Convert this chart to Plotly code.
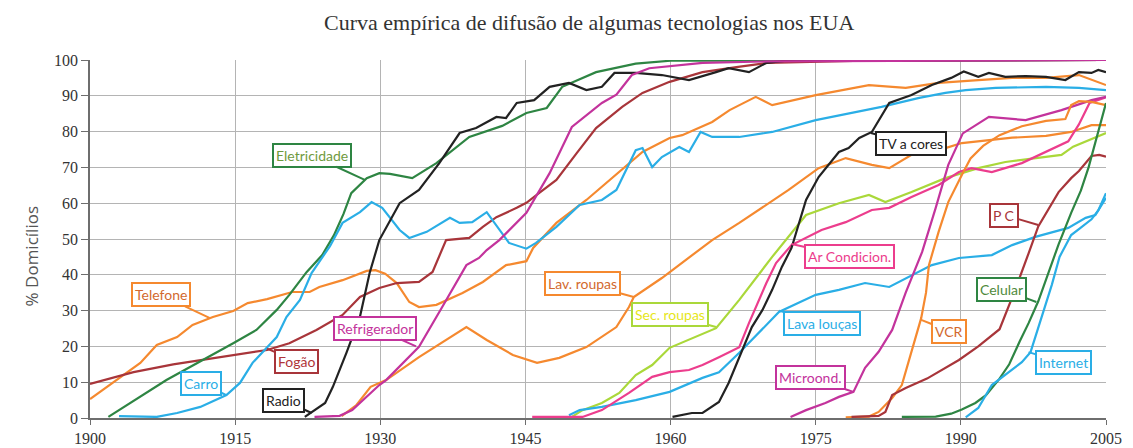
import plotly.graph_objects as go

# ---- data ----
tel_x = [1900, 1902.8, 1905.2, 1906.9, 1909, 1910.6, 1912.7, 1914.8, 1916.3, 1918.3, 1920.9, 1922.7, 1923.7,
         1926.1, 1928.6, 1929.5, 1930.5, 1931.7, 1933, 1934, 1935.8, 1938.5, 1940.6, 1943, 1945.1, 1945.8,
         1948.2, 1951.3, 1954.7, 1957.1, 1959.9, 1961.2, 1964.3, 1966.1, 1968.8, 1970.5, 1975, 1980.5,
         1984.3, 1987.7, 1991.8, 1995.3, 1998.8, 2002.2, 2005]
tel_y = [5.3, 10.6, 15.4, 20.4, 22.6, 26, 28.2, 29.9, 32.1, 33.2, 35.2, 35.2, 36.6,
         38.5, 41.1, 41.3, 40.3, 37.7, 32.4, 31, 31.6, 34.9, 38, 42.7, 43.8, 47.5,
         54.5, 60.9, 68.7, 74.3, 78.2, 79, 82.7, 86, 89.7, 87.4, 90.2, 93,
         92.2, 93.6, 94.4, 95, 95, 95.8, 93]

fog_x = [1900, 1904.5, 1908.6, 1913.4, 1918.3, 1920.6, 1923.4, 1926.1, 1927.9, 1929.9, 1931.7, 1934,
         1935.4, 1936.8, 1939.2, 1940.6, 1942, 1944.1, 1945.1, 1946.4, 1948.2, 1950.3, 1952.3, 1955,
         1957.1, 1959.9, 1963.3, 1966.8, 1970, 1980, 2005]
fog_y = [9.5, 12.8, 15, 17, 19, 20.9, 24.6, 28.8, 33.8, 36.3, 37.7, 38,
         40.8, 49.7, 50.3, 53.4, 56.1, 58.7, 60.1, 62.8, 66.5, 74, 81, 86.9,
         90.8, 93.9, 96.6, 98, 99.2, 99.8, 100]

ele_x = [1901.9, 1907.9, 1914.8, 1917.2, 1919.3, 1920.6, 1922.4, 1924, 1925.2, 1926.2, 1927, 1928.6,
         1929.9, 1931, 1933.3, 1935.8, 1939.2, 1942.6, 1945.1, 1947.2, 1948.8, 1952.3, 1956.4, 1960, 2005]
ele_y = [0.3, 10.6, 20.9, 24.6, 30.2, 34.4, 40.8, 45.5, 51, 57, 62.8, 67,
         68.4, 68.2, 67, 71.2, 78.5, 81.6, 85.2, 86.6, 92.5, 96.6, 99, 99.8, 100]

car_x = [1903, 1906.9, 1909, 1911.4, 1914.1, 1915.5, 1916.8, 1918.3, 1919.3, 1920.3, 1921.7, 1922.9,
         1924.8, 1926.1, 1927.9, 1929.1, 1930.2, 1932, 1933, 1934.8, 1937.2, 1938.2, 1939.5, 1941,
         1942.3, 1943.3, 1945.1, 1946.1, 1948.2, 1950.6, 1952.9, 1954.4, 1956.4, 1957.1, 1958.1, 1959.1,
         1960.9, 1961.9, 1963.1, 1964.3, 1967.1, 1970.5, 1975, 1981.8, 1985.7, 1988.4, 1990.5, 1993.6,
         1998.8, 2002.2, 2005]
car_y = [0.5, 0.3, 1.4, 3.1, 6.4, 9.8, 15.4, 19.8, 22.6, 28.2, 33, 40.5,
         48, 54.5, 57.5, 60.3, 58.7, 52.5, 50.3, 52, 55.9, 54.5, 54.7, 57.5,
         52.5, 48.9, 47.3, 48.9, 53.4, 59.5, 60.9, 63.7, 74.8, 75.4, 70.1, 72.9,
         75.7, 74.3, 79.9, 78.5, 78.5, 79.9, 83.2, 86.9, 89.4, 90.8, 91.6, 92.2,
         92.5, 92.2, 91.6]

rad_x = [1922.2, 1924.3, 1925.1, 1926.5, 1927.9, 1928.9, 1929.9, 1932, 1934, 1936.1, 1938.2, 1939.9,
         1942, 1943, 1944.1, 1945.9, 1947.5, 1949.5, 1951.3, 1952.9, 1954.2, 1956.4, 1959.1, 1961.9,
         1964.7, 1966, 1968.1, 1969.9, 1972, 2005]
rad_y = [0.3, 4.2, 8.7, 18.2, 28.3, 40.5, 49.7, 60, 63.7, 71.2, 79.6, 81,
         84.1, 83.8, 88, 88.8, 92.5, 93.6, 91.6, 92.5, 96.4, 96.4, 95.8, 94.4,
         96.6, 97.7, 96.6, 99.2, 99.8, 100]

ref_x = [1923.2, 1925.8, 1927.1, 1928.6, 1929.9, 1930.6, 1934, 1936.4, 1938.9, 1940.2, 1941, 1942.3,
         1945.1, 1947.5, 1949.8, 1952.9, 1954.4, 1956, 1957.8, 1963.3, 1970, 2005]
ref_y = [0.3, 0.6, 2.2, 5.9, 9.2, 10.6, 19.9, 31, 42.7, 44.7, 46.9, 49.7,
         57.3, 68.4, 81.3, 88, 90.3, 95.8, 97.7, 99.2, 99.6, 100]

lav_x = [1926, 1927.5, 1929, 1930.6, 1934, 1938.9, 1941, 1943.7, 1946.2, 1948.5, 1951.3, 1954.4,
         1955.7, 1956.2, 1959.1, 1960.9, 1964.3, 1967.1, 1972.2, 1975.3, 1978.1, 1980.8, 1982.6,
         1984.9, 1988.4, 1990.1, 1995.3, 1998.8, 2001.4, 2003.5, 2005]
lav_y = [0.5, 3.5, 8.7, 10.6, 17, 25.4, 21.8, 17.6, 15.4, 16.8, 19.8, 25.4,
         31, 33.8, 39.1, 42.7, 49.7, 54.5, 63.7, 69.8, 72.6, 70.7, 69.8,
         73.5, 75.4, 76.8, 78.3, 78.8, 79.9, 81.8, 81.8]

sec_x = [1949.8, 1950.9, 1952.9, 1954.7, 1956.4, 1958.1, 1959.9, 1962.5, 1964.7, 1967.1, 1970.5,
         1974, 1977.4, 1980.5, 1982.2, 1984.9, 1988.4, 1991.8, 1994.6, 2000.4, 2001.6, 2005]
sec_y = [0.3, 2.2, 4.2, 7, 12, 14.8, 19.6, 22.5, 25.1, 33, 45,
         56.7, 60, 62.3, 60.3, 63.1, 67, 69.8, 71.5, 73.5, 75.8, 79.6]

llo_x = [1949.5, 1950.6, 1952.9, 1956.4, 1959.9, 1963.3, 1965, 1967.1, 1971.2, 1975, 1977.4, 1980.1,
         1982.6, 1983.6, 1987, 1989.8, 1993.2, 1995.3, 1997.7, 2001.1, 2002.9, 2003.9, 2005]
llo_y = [0.8, 2.2, 3.1, 5, 7.3, 11.2, 12.8, 18.2, 29.6, 34.4, 35.8, 37.7,
         36.6, 38, 42.7, 44.7, 45.5, 48.3, 50.6, 53.1, 55.9, 56.7, 61.5]

arc_x = [1945.7, 1950.9, 1952.9, 1955.7, 1958.1, 1959.9, 1961.9, 1963.3, 1965, 1967.1, 1968.1, 1969.9,
         1970.9, 1972.5, 1975.6, 1978.1, 1980.8, 1982.6, 1984.9, 1987.7, 1989.8, 1991.1, 1993.2,
         1996.3, 2001.1, 2002.2, 2003.3, 2005]
arc_y = [0.3, 0.3, 2.2, 7, 11.5, 12.8, 13.4, 14.8, 17, 19.8, 26.5, 37.7,
         43.3, 48.3, 52.5, 54.7, 58.1, 58.7, 61.7, 65.1, 68.7, 69.8, 68.7,
         71.2, 77.3, 82, 88, 89.6]

tvc_x = [1960.2, 1962.2, 1963.3, 1965, 1966, 1967.1, 1968.4, 1969.5, 1970.5, 1971.5, 1972.5, 1974,
         1975.3, 1977.4, 1978.4, 1979.5, 1980.8, 1982.6, 1984.9, 1987, 1989, 1990.3, 1991.8, 1992.9,
         1994.6, 1996.7, 1998.8, 2000.8, 2002.2, 2003.5, 2004.2, 2005]
tvc_y = [0.3, 1.4, 1.4, 4.5, 9.8, 17, 25.4, 30.2, 35.8, 42.2, 47.5, 60.9,
         67.3, 74.3, 75.4, 78.2, 79.9, 88, 90.2, 93, 95, 96.8, 95.3, 96.4,
         95.3, 95.5, 95.3, 94.4, 96.6, 96.4, 97.2, 96.6]

mic_x = [1972.4, 1974, 1976, 1977.4, 1978.9, 1980.1, 1981.5, 1982.9, 1984.3, 1986, 1987.4, 1988.7,
         1990.2, 1992.9, 1996.7, 2000.4, 2003.5, 2005]
mic_y = [0.3, 2.2, 4.2, 5.9, 7.3, 14, 18.5, 24.6, 35, 46.4, 58.7, 70.7,
         79.5, 84.1, 83.2, 86, 88.8, 89.7]

vcr_x = [1978.1, 1980.5, 1981.5, 1982.9, 1983.9, 1984.9, 1985.9, 1986.4, 1986.7, 1987.7, 1988.7,
         1990.1, 1991, 1992.3, 1994, 1996.3, 1998.8, 2000.8, 2001.4, 2002.2, 2003.5, 2005]
vcr_y = [0.2, 0.4, 1.7, 5.6, 9.2, 18.4, 27.9, 35, 42.7, 52, 60.3,
         67.9, 72.5, 76, 79, 81.5, 83, 83.5, 87.4, 88.5, 88.3, 87.4]

pc_x = [1978.7, 1981.5, 1982.2, 1982.9, 1984.3, 1986.5, 1989.8, 1991.8, 1994, 1995.5, 1997, 1998,
        2000.1, 2001.4, 2002.2, 2003.5, 2004.3, 2005]
pc_y = [0.3, 0.6, 1.7, 6.4, 8.4, 11, 16.2, 20, 24.8, 35, 46, 53.5,
        63.1, 67, 69, 73.2, 73.5, 73]

cel_x = [1983.9, 1987.4, 1989, 1990.1, 1991.5, 1992.6, 1994, 1995, 1996.1, 1997, 1998, 1999, 2000.1,
         2001.4, 2002.4, 2003.2, 2004, 2005]
cel_y = [0.3, 0.4, 1.2, 2.4, 4.2, 6.4, 11, 15, 21.5, 26.5, 32.6, 40, 48.5,
         57.3, 63.5, 70, 78, 88]

int_x = [1990.5, 1991.8, 1993.2, 1994.6, 1996.3, 1997.2, 1998.3, 1999.4, 2000.2, 2001.4, 2002.3,
         2003.5, 2004.2, 2005]
int_y = [0.2, 2.8, 9.2, 12, 15.6, 18.4, 27.9, 37.2, 45, 51.1, 53, 55.5, 58, 62.8]

x_ticks = [1900, 1915, 1930, 1945, 1960, 1975, 1990, 2005]
y_ticks = [0, 10, 20, 30, 40, 50, 60, 70, 80, 90, 100]

ORANGE = "#F5892F"
DRED = "#A8353A"
GREEN = "#2E8543"
LBLUE = "#2AAEE6"
BLACK = "#222222"
MAGENTA = "#C3339C"
PINK = "#EC3D8D"
LIME = "#AAD83A"

series = [
    ("Telefone", tel_x, tel_y, ORANGE),
    ("Fogão", fog_x, fog_y, DRED),
    ("Eletricidade", ele_x, ele_y, GREEN),
    ("Carro", car_x, car_y, LBLUE),
    ("Radio", rad_x, rad_y, BLACK),
    ("Lav. roupas", lav_x, lav_y, ORANGE),
    ("Sec. roupas", sec_x, sec_y, LIME),
    ("Lava louças", llo_x, llo_y, LBLUE),
    ("Ar Condicion.", arc_x, arc_y, PINK),
    ("TV a cores", tvc_x, tvc_y, BLACK),
    ("Microond.", mic_x, mic_y, MAGENTA),
    ("VCR", vcr_x, vcr_y, ORANGE),
    ("P C", pc_x, pc_y, DRED),
    ("Celular", cel_x, cel_y, GREEN),
    ("Internet", int_x, int_y, LBLUE),
    ("Refrigerador", ref_x, ref_y, MAGENTA),
]

# label: text, tip (x, y), box centre (x, y), text colour, border colour
labels = [
    ("Eletricidade", 1928.4, 66.5, 1922.9, 73.4, "#6F9A3E", GREEN),
    ("Telefone", 1912.4, 27.9, 1907.3, 34.4, "#D2692E", ORANGE),
    ("Fogão", 1918.3, 19.4, 1921.3, 15.9, "#B03539", DRED),
    ("Carro", 1914.1, 6.4, 1911.5, 9.6, LBLUE, LBLUE),
    ("Radio", 1922.9, 1.4, 1920.0, 5.0, BLACK, BLACK),
    ("Refrigerador", 1933.7, 20.0, 1929.5, 25.1, MAGENTA, MAGENTA),
    ("Lav. roupas", 1956.2, 33.8, 1950.9, 37.7, "#D2692E", ORANGE),
    ("Sec. roupas", 1964.7, 25.4, 1959.9, 29.0, "#E6E61A", LIME),
    ("Ar Condicion.", 1972.5, 48.6, 1978.5, 45.0, PINK, PINK),
    ("Lava louças", 1971.2, 30.0, 1975.6, 26.3, LBLUE, LBLUE),
    ("Microond.", 1978.9, 7.3, 1974.5, 11.2, MAGENTA, MAGENTA),
    ("VCR", 1985.9, 27.4, 1988.8, 24.3, "#D2692E", ORANGE),
    ("Celular", 1997.8, 32.4, 1994.2, 36.0, "#4F8A3C", GREEN),
    ("Internet", 1997.0, 18.4, 2000.6, 15.4, LBLUE, LBLUE),
    ("P C", 1998.0, 53.9, 1994.5, 56.7, DRED, DRED),
    ("TV a cores", 1980.7, 79.6, 1984.8, 76.8, BLACK, BLACK),
]

fig = go.Figure()
for name, xs, ys, col in series:
    fig.add_trace(go.Scatter(x=xs, y=ys, mode="lines", name=name,
                             line=dict(color=col, width=2.2), hoverinfo="x+y+name"))

for txt, tx, ty, bx, by, tcol, bcol in labels:
    fig.add_annotation(x=tx, y=ty, ax=bx, ay=by, axref="x", ayref="y", xref="x", yref="y",
                       text=txt, showarrow=True, arrowhead=0, arrowwidth=2, arrowcolor=bcol,
                       font=dict(family="Lato", size=14, color=tcol),
                       bgcolor="white", bordercolor=bcol, borderwidth=2, borderpad=2)

# y axis title as a free annotation (sits a bit below the plot centre in the original)
fig.add_annotation(text="% Domicílios", xref="paper", yref="paper", x=0, y=0.45,
                   xshift=-72, textangle=-90, showarrow=False,
                   font=dict(family="Open Sans", size=17, color="#555555"))

fig.update_layout(
    width=1133, height=448,
    margin=dict(l=90, r=27, t=60, b=30),
    paper_bgcolor="white", plot_bgcolor="white",
    showlegend=False,
    title=dict(text="Curva empírica de difusão de algumas tecnologias nos EUA",
               x=0.52, xanchor="center", y=0.95, yanchor="middle",
               font=dict(family="Liberation Serif", size=22, color="#333333")),
)
fig.update_xaxes(range=[1900, 2005], tickvals=x_ticks, showgrid=True, gridcolor="#b4b4b4", gridwidth=1.3,
                 showline=True, linecolor="#6e6e6e", linewidth=1.5, ticks="outside", ticklen=5,
                 tickcolor="#6e6e6e", zeroline=False, automargin=False,
                 tickfont=dict(family="Liberation Serif", size=16, color="#333333"))
fig.update_yaxes(range=[0, 100], tickvals=y_ticks, showgrid=True, gridcolor="#b4b4b4", gridwidth=1.3,
                 showline=True, linecolor="#6e6e6e", linewidth=1.5, ticks="outside", ticklen=7,
                 tickcolor="#6e6e6e", zeroline=False, automargin=False,
                 tickfont=dict(family="Liberation Serif", size=16, color="#333333"))

fig.write_html("out.html", config={"displayModeBar": False},
               post_script="document.body.style.margin='0px';")
